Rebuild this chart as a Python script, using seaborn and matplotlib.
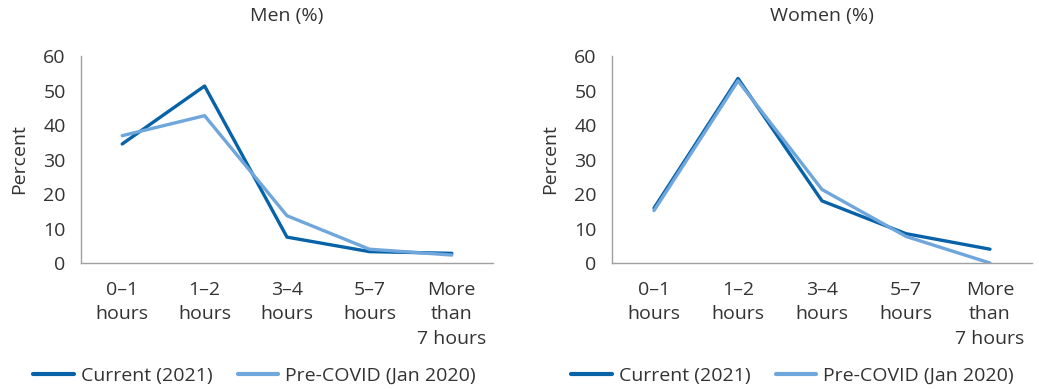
import pandas as pd
import matplotlib.pyplot as plt
import seaborn as sns

# --- DATA ---
categories = ["0\u20131\nhours", "1\u20132\nhours", "3\u20134\nhours", "5\u20137\nhours", "More\nthan\n7 hours"]
men_current = [34.5, 51.3, 7.5, 3.3, 2.8]
men_precovid = [36.9, 42.7, 13.7, 4.0, 2.3]
women_current = [15.9, 53.5, 18.0, 8.5, 4.0]
women_precovid = [15.2, 52.8, 21.3, 7.7, 0.0]
series_names = ["Current (2021)", "Pre-COVID (Jan 2020)"]
panel_titles = ["Men (%)", "Women (%)"]

DARK = "#0762a8"
LIGHT = "#6fa6dc"
TEXT = "#333333"
SPINE = "#a0a0a0"
FS = 14

sns.set_style("white")
plt.rcParams["font.family"] = ["Open Sans", "DejaVu Sans"]


def long_frame(current, pre):
    rows = []
    for i, c in enumerate(categories):
        rows.append({"pos": i, "value": current[i], "series": series_names[0]})
        rows.append({"pos": i, "value": pre[i], "series": series_names[1]})
    return pd.DataFrame(rows)


fig = plt.figure(figsize=(10.39, 3.89), dpi=100)
ax_l = fig.add_axes([81 / 1039, 1 - 263 / 389, (493 - 81) / 1039, (263 - 56) / 389])
ax_r = fig.add_axes([612 / 1039, 1 - 263 / 389, (1032 - 612) / 1039, (263 - 56) / 389])

panels = [
    (ax_l, men_current, men_precovid, panel_titles[0], 33),
    (ax_r, women_current, women_precovid, panel_titles[1], 571),
]

for ax, cur, pre, title, leg_x in panels:
    df = long_frame(cur, pre)
    sns.lineplot(data=df, x="pos", y="value", hue="series", palette=[DARK, LIGHT],
                 hue_order=series_names, linewidth=2.4, ax=ax, legend=True)
    ax.set_xlim(-0.5, 4.5)
    ax.set_ylim(0, 60)
    ax.set_yticks(range(0, 61, 10))
    ax.set_xticks(range(len(categories)))
    ax.set_xticklabels(categories, color=TEXT, fontsize=FS, linespacing=1.45)
    ax.set_xticks([i - 0.5 for i in range(len(categories) + 1)], minor=True)
    ax.tick_params(axis="x", which="major", length=0, pad=13)
    ax.tick_params(axis="x", which="minor", length=7, color=SPINE, width=1, direction="out")
    ax.tick_params(axis="y", length=7, color=SPINE, width=1, direction="out",
                   labelsize=FS, labelcolor=TEXT, pad=4)
    ax.set_xlabel("")
    ax.set_ylabel("Percent", fontsize=FS, color=TEXT, labelpad=11)
    ax.set_title(title, fontsize=FS, color=TEXT, pad=25)
    for s in ["top", "right"]:
        ax.spines[s].set_visible(False)
    for s in ["left", "bottom"]:
        ax.spines[s].set_color(SPINE)
        ax.spines[s].set_linewidth(1)
    handles, labels = ax.get_legend_handles_labels()
    leg = ax.legend(handles, labels, loc="center left", ncol=2, frameon=False,
                    bbox_to_anchor=(leg_x / 1039, 1 - 376 / 389), bbox_transform=fig.transFigure,
                    fontsize=FS, handlelength=2.1, handletextpad=0.35, columnspacing=1.3,
                    borderaxespad=0, borderpad=0, labelcolor=TEXT)
    for line in leg.get_lines():
        line.set_linewidth(3.0)

fig.savefig("out.png", dpi=100)
